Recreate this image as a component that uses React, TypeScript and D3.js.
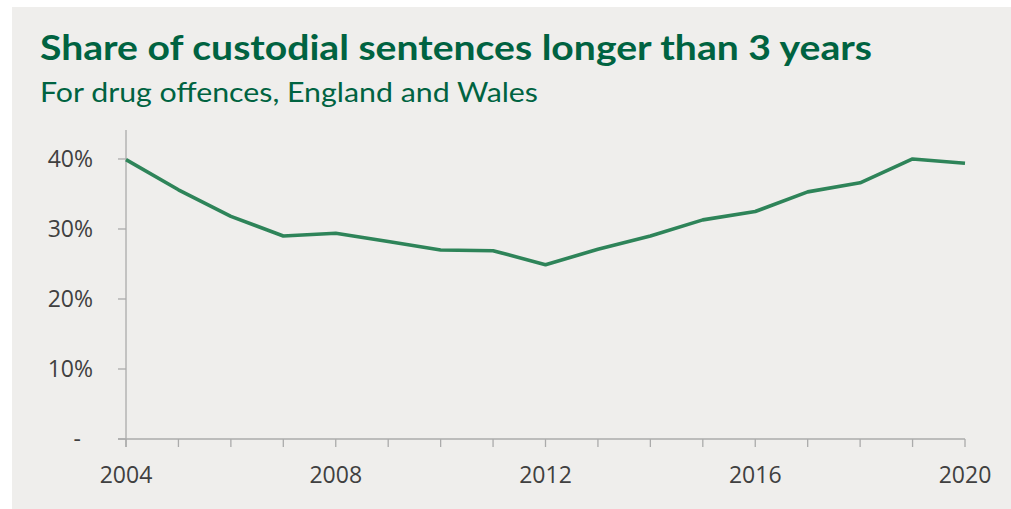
import React from "react";
import * as d3 from "d3";

const years: number[] = [2004, 2005, 2006, 2007, 2008, 2009, 2010, 2011, 2012, 2013, 2014, 2015, 2016, 2017, 2018, 2019, 2020];
const shareLongSentences: number[] = [39.9, 35.6, 31.8, 29.0, 29.4, 28.2, 27.0, 26.9, 24.9, 27.1, 29.0, 31.3, 32.5, 35.3, 36.6, 40.0, 39.4];
const yTicks: number[] = [0, 10, 20, 30, 40];
const xTickLabels: number[] = [2004, 2008, 2012, 2016, 2020];
const title = "Share of custodial sentences longer than 3 years";
const subtitle = "For drug offences, England and Wales";

const W = 1011;
const H = 509;
const plot = { left: 126, right: 965, top: 130, bottom: 439 };

export default function App() {
  const x = d3.scaleLinear().domain([2004, 2020]).range([plot.left, plot.right]);
  const y = d3.scaleLinear().domain([0, 44.14]).range([plot.bottom, plot.top]);
  const line = d3
    .line<number>()
    .x((_, i) => x(years[i]))
    .y((d) => y(d));
  const axisColor = "#ABABAB";
  const textColor = "#404040";
  const green = "#006341";
  return (
    <div style={{ position: "absolute", left: 0, top: 0 }}>
      <svg width={W} height={H} style={{ display: "block" }}>
        <rect x={12} y={7} width={W - 12} height={H - 7} fill="#EFEEEC" />
        <text
          x={40}
          y={60}
          fontFamily="Lato, sans-serif"
          fontWeight={700}
          fontSize={34}
          fill={green}
          textLength={832}
          lengthAdjust="spacingAndGlyphs"
        >
          {title}
        </text>
        <text
          x={40}
          y={102}
          fontFamily="Lato, sans-serif"
          fontWeight={400}
          fontSize={26}
          fill={green}
          textLength={498}
          lengthAdjust="spacingAndGlyphs"
        >
          {subtitle}
        </text>
        {/* y axis */}
        <line x1={plot.left} x2={plot.left} y1={plot.top} y2={plot.bottom + 8} stroke={axisColor} strokeWidth={1.3} />
        {yTicks.map((t) => (
          <g key={"y" + t}>
            <line x1={plot.left - 8} x2={plot.left} y1={y(t)} y2={y(t)} stroke={axisColor} strokeWidth={1.3} />
            <text
              x={t === 0 ? 81 : 93}
              y={y(t)}
              dy="0.35em"
              textAnchor="end"
              fontFamily="'Open Sans', sans-serif"
              fontSize={23}
              fill={textColor}
            >
              {t === 0 ? "-" : `${t}%`}
            </text>
          </g>
        ))}
        {/* x axis */}
        <line x1={plot.left - 8} x2={plot.right} y1={plot.bottom} y2={plot.bottom} stroke={axisColor} strokeWidth={1.3} />
        {years.map((yr) => (
          <line key={"xt" + yr} x1={x(yr)} x2={x(yr)} y1={plot.bottom} y2={plot.bottom + 8} stroke={axisColor} strokeWidth={1.3} />
        ))}
        {xTickLabels.map((yr) => (
          <text
            key={"xl" + yr}
            x={x(yr)}
            y={483}
            textAnchor="middle"
            fontFamily="'Open Sans', sans-serif"
            fontSize={23}
            fill={textColor}
          >
            {yr}
          </text>
        ))}
        <path d={line(shareLongSentences) || ""} fill="none" stroke="#2E8459" strokeWidth={3.6} strokeLinejoin="round" />
      </svg>
    </div>
  );
}
